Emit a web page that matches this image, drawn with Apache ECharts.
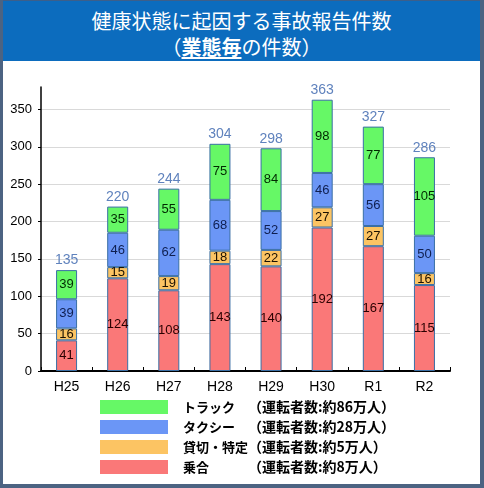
<!DOCTYPE html>
<html>
<head>
<meta charset="utf-8">
<script src="https://cdn.jsdelivr.net/npm/echarts@6/dist/echarts.min.js"></script>
<style>
  html, body { margin: 0; padding: 0; background: #fff; }
  #frame {
    position: relative;
    width: 477px; height: 484px;
    border-left: 3px solid #4c6382;
    border-right: 4px solid #4c6382;
    border-bottom: 4px solid #4c6382;
    background: #fff;
  }
  #header {
    height: 61px;
    background: #0c6cbe;
    border-top: 1px solid #3d5f8a;
    color: #fff;
    text-align: center;
    font-family: "Noto Sans CJK JP", sans-serif;
    font-size: 20px;
    line-height: 26px;
    padding-top: 7px;
    box-sizing: border-box;
  }
  #header u { font-weight: bold; text-underline-offset: 2px; }
  #chart { width: 477px; height: 423px; }
</style>
</head>
<body>
<div id="frame">
  <div id="header">健康状態に起因する事故報告件数<br>（<u>業態毎</u>の件数）</div>
  <div id="chart"></div>
</div>
<script>
const categories = ['H25', 'H26', 'H27', 'H28', 'H29', 'H30', 'R1', 'R2'];
const noriai = [41, 124, 108, 143, 140, 192, 167, 115];      // 乗合
const kashikiri = [16, 15, 19, 18, 22, 27, 27, 16];          // 貸切・特定
const taxi = [39, 46, 62, 68, 52, 46, 56, 50];               // タクシー
const truck = [39, 35, 55, 75, 84, 98, 77, 105];             // トラック
const legendOrder = ['トラック', 'タクシー', '貸切・特定', '乗合'];
const legendNotes = {
  'トラック': '（運転者数:約86万人）',
  'タクシー': '（運転者数:約28万人）',
  '貸切・特定': '（運転者数:約5万人）',
  '乗合': '（運転者数:約8万人）'
};

// totals above each bar
const totals = categories.map((c, i) => noriai[i] + kashikiri[i] + taxi[i] + truck[i]);

const chart = echarts.init(document.getElementById('chart'));

const numFont = '"Liberation Sans", Arial, sans-serif';
const jpFont = '"Noto Sans CJK JP", sans-serif';

const makeBar = (name, data, color, labelColor) => ({
  name: name,
  type: 'bar',
  stack: 'total',
  data: data,
  barWidth: 21,
  itemStyle: { color: color, borderColor: '#3a6fa5', borderWidth: 1 },
  label: {
    show: true,
    position: 'inside',
    color: labelColor,
    fontSize: 13,
    fontFamily: numFont
  },
  emphasis: { disabled: true }
});

const option = {
  animation: false,
  textStyle: { fontFamily: numFont },
  grid: { left: 38, right: 30, top: 26, bottom: 113 },
  legend: {
    data: legendOrder,
    orient: 'vertical',
    left: 97,
    top: 339,
    padding: 0,
    itemWidth: 68,
    itemHeight: 14,
    itemGap: 6,
    selectedMode: false,
    icon: 'rect',
    itemStyle: { borderWidth: 0 },
    formatter: name => '{s|}{n|' + name + '}{p|' + legendNotes[name] + '}',
    textStyle: {
      rich: {
        s: { width: 10, lineHeight: 14 },
        n: { width: 65, fontSize: 13, lineHeight: 14, fontWeight: 'bold', color: '#000', fontFamily: jpFont },
        p: { fontSize: 14, lineHeight: 14, fontWeight: 'bold', color: '#000', fontFamily: jpFont }
      }
    }
  },
  xAxis: {
    type: 'category',
    data: categories,
    axisLine: { lineStyle: { color: '#000', width: 2 } },
    axisTick: { show: true, inside: true, length: 4, lineStyle: { color: '#000' } },
    axisLabel: { color: '#000', fontSize: 14, margin: 9, fontFamily: numFont }
  },
  yAxis: {
    type: 'value',
    min: 0,
    max: 380,
    interval: 50,
    axisLine: { show: true, lineStyle: { color: '#000', width: 1.5 } },
    axisTick: { show: true, length: 3, lineStyle: { color: '#000' } },
    axisLabel: { color: '#000', fontSize: 13, margin: 9, showMaxLabel: false, fontFamily: numFont },
    splitLine: { show: true, showMaxLine: false, lineStyle: { color: '#d9d9d9' } }
  },
  series: [
    makeBar('乗合', noriai, '#fa7878', '#2a0000'),
    makeBar('貸切・特定', kashikiri, '#fcc463', '#1a1000'),
    makeBar('タクシー', taxi, '#6b96f6', '#0f1f50'),
    makeBar('トラック', truck, '#66f866', '#002a00'),
    {
      name: '合計',
      type: 'scatter',
      data: totals,
      symbol: 'rect',
      symbolSize: 1,
      itemStyle: { color: 'rgba(0,0,0,0)', opacity: 1 },
      silent: true,
      z: 10,
      label: {
        show: true,
        position: 'top',
        distance: 2,
        opacity: 1,
        color: '#5f82bd',
        fontSize: 14,
        fontFamily: numFont
      }
    }
  ]
};

chart.setOption(option);
</script>
</body>
</html>
